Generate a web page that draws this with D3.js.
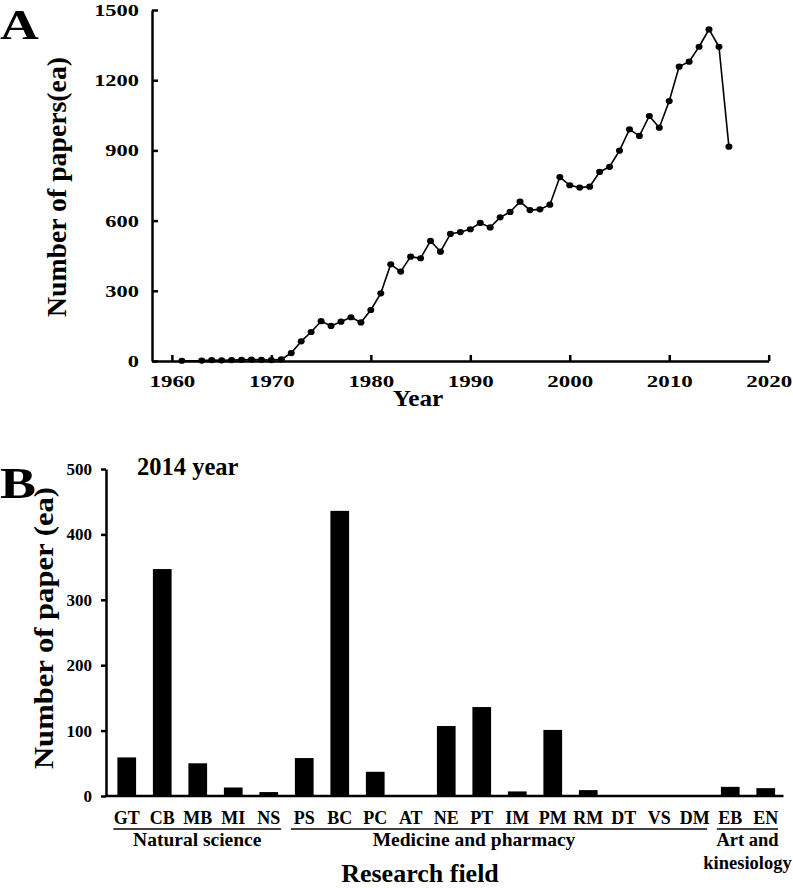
<!DOCTYPE html>
<html><head><meta charset="utf-8">
<script src="https://cdn.jsdelivr.net/npm/d3@7"></script>
<style>
html,body{margin:0;padding:0;background:#fff;}
text{font-family:"Liberation Serif","Times New Roman",serif;font-weight:bold;fill:#000;}
</style></head><body>
<script>
// ---------- Panel A data ----------
const years = [1961,1963,1964,1965,1966,1967,1968,1969,1970,1971,1972,1973,1974,1975,1976,1977,1978,1979,1980,1981,1982,1983,1984,1985,1986,1987,1988,1989,1990,1991,1992,1993,1994,1995,1996,1997,1998,1999,2000,2001,2002,2003,2004,2005,2006,2007,2008,2009,2010,2011,2012,2013,2014,2015,2016];
const papers = [1,2,4,3,4,5,6,5,4,7,34,84,124,170,150,168,187,165,218,289,413,382,446,439,513,467,543,551,563,590,571,614,637,681,645,648,668,786,751,741,745,808,830,899,990,962,1047,997,1111,1258,1279,1343,1417,1343,916];
const yearTicks = [1960,1970,1980,1990,2000,2010,2020];
const paperTicks = [0,300,600,900,1200,1500];

// ---------- Panel B data ----------
const fields = ["GT","CB","MB","MI","NS","PS","BC","PC","AT","NE","PT","IM","PM","RM","DT","VS","DM","EB","EN"];
const counts = [59,347,50,13,6,58,436,37,0,107,136,7,101,9,0,0,0,14,12];
const countTicks = [0,100,200,300,400,500];
const groupNames = [["Natural science"],["Medicine and pharmacy"],["Art and","kinesiology"]];
const groupFirst = ["GT","PS","EB"];
const groupLast = ["NS","DM","EN"];

const W = 793, H = 888;
const svg = d3.select("body").append("svg").attr("width", W).attr("height", H);

// ================= Panel A =================
const gA = svg.append("g");
const xA = d3.scaleLinear().domain([1958, 2020]).range([152, 768.7]);
const yA = d3.scaleLinear().domain([0, 1500]).range([361, 10]);

const axA_y = gA.append("g").attr("transform", `translate(${xA(1958)},0)`)
  .call(d3.axisLeft(yA).tickValues(paperTicks).tickFormat(d3.format("d")).tickSizeInner(-6).tickSizeOuter(0).tickPadding(13));
const axA_x = gA.append("g").attr("transform", `translate(0,${yA(0)})`)
  .call(d3.axisBottom(xA).tickValues(yearTicks).tickFormat(d3.format("d")).tickSizeInner(-6).tickSizeOuter(0).tickPadding(14));
[axA_y, axA_x].forEach(a => {
  a.select(".domain").attr("stroke-width", 2.5).attr("stroke", "#000");
  a.selectAll(".tick line").attr("stroke-width", 2.5).attr("stroke", "#000");
  a.selectAll("text").attr("font-size", 17).attr("fill", "#000");
});
axA_x.selectAll(".tick text").attr("dy", "0.71em");
// stretch tick labels horizontally
axA_y.selectAll(".tick text").each(function(){
  const t = d3.select(this); t.attr("text-anchor","end");
  const x = +t.attr("x"); t.attr("transform", `translate(${x},0) scale(1.32,1)`).attr("x", 0);
});
axA_x.selectAll(".tick text").each(function(){
  const t = d3.select(this);
  const y = +t.attr("y"); t.attr("transform", `translate(0,${y}) scale(1.35,1)`).attr("y", 0);
});

const lineA = d3.line().x((d,i) => xA(years[i])).y(d => yA(d));
gA.append("path").datum(papers).attr("d", lineA)
  .attr("fill", "none").attr("stroke", "#000").attr("stroke-width", 1.6);
gA.selectAll("ellipse.pt").data(papers).join("ellipse")
  .attr("class","pt")
  .attr("cx", (d,i) => xA(years[i])).attr("cy", d => yA(d))
  .attr("rx", 3.5).attr("ry", 3.1).attr("fill", "#000");

gA.append("text").attr("transform", "translate(0,39) scale(1.25,1)")
  .attr("font-size", 43).text("A");
gA.append("text").attr("transform", "translate(418,406) scale(1.1,1)").attr("text-anchor","middle")
  .attr("font-size", 23).text("Year");
gA.append("text").attr("transform", "translate(66,187) rotate(-90)")
  .attr("text-anchor","middle").attr("font-size", 28)
  .attr("textLength", 260).attr("lengthAdjust","spacingAndGlyphs")
  .text("Number of papers(ea)");

// ================= Panel B =================
const gB = svg.append("g");
const xB = d3.scaleBand().domain(fields).range([109, 783.5]).paddingInner(0.473).paddingOuter(0.2365);
const yB = d3.scaleLinear().domain([0, 500]).range([796, 469]);
const axisX0 = 106;

gB.selectAll("rect.bar").data(counts).join("rect")
  .attr("class","bar")
  .attr("x", (d,i) => xB(fields[i])).attr("width", xB.bandwidth())
  .attr("y", d => yB(d)).attr("height", d => yB(0) - yB(d))
  .attr("fill", "#000");

const axB_y = gB.append("g").attr("transform", `translate(${axisX0},0)`)
  .call(d3.axisLeft(yB).tickValues(countTicks).tickSizeInner(5).tickSizeOuter(0).tickPadding(9));
axB_y.select(".domain").attr("stroke-width", 2.5).attr("stroke","#000");
axB_y.selectAll(".tick line").attr("stroke-width", 2.5).attr("stroke","#000");
axB_y.selectAll("text").attr("font-size", 17).attr("fill","#000");

gB.append("line").attr("x1", axisX0 - 1).attr("x2", xB.range()[1])
  .attr("y1", yB(0)).attr("y2", yB(0)).attr("stroke","#000").attr("stroke-width", 2.5);

const axB_x = gB.append("g").attr("transform", `translate(0,${yB(0)})`)
  .call(d3.axisBottom(xB).tickSize(0).tickPadding(15));
axB_x.select(".domain").remove();
axB_x.selectAll("text").attr("font-size", 18).attr("fill","#000");

// group underlines and labels
groupNames.forEach((name, gi) => {
  const x1 = xB(groupFirst[gi]) - 4;
  const x2 = xB(groupLast[gi]) + xB.bandwidth() + 3;
  gB.append("line").attr("x1", x1).attr("x2", x2).attr("y1", 829).attr("y2", 829)
    .attr("stroke","#000").attr("stroke-width", 1.6);
  const cx = (x1 + x2) / 2;
  name.forEach((ln, li) => {
    gB.append("text").attr("x", gi === 1 ? cx - 25 : cx).attr("y", 846 + li * 23)
      .attr("text-anchor","middle").attr("font-size", gi === 2 ? 18.5 : 19.5).text(ln);
  });
});

gB.append("text").attr("x", 137).attr("y", 475).attr("font-size", 24.5).text("2014 year");
gB.append("text").attr("transform", "translate(0,498) scale(1.2,1)")
  .attr("font-size", 45).text("B");
gB.append("text").attr("x", 420).attr("y", 882).attr("text-anchor","middle")
  .attr("font-size", 26).text("Research field");
gB.append("text").attr("transform", "translate(53,628) rotate(-90)")
  .attr("text-anchor","middle").attr("font-size", 28)
  .attr("textLength", 282).attr("lengthAdjust","spacingAndGlyphs")
  .text("Number of paper (ea)");
</script>
</body></html>
